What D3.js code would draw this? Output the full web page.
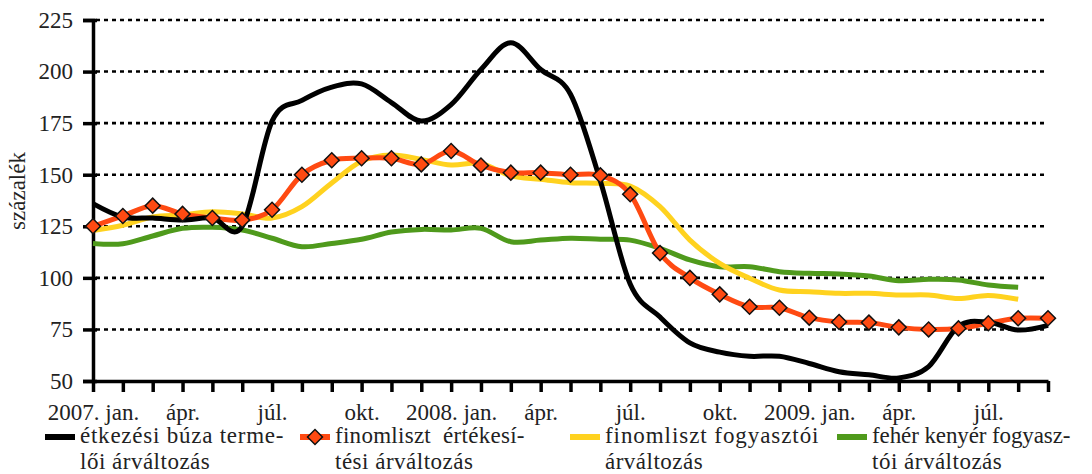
<!DOCTYPE html>
<html>
<head>
<meta charset="utf-8">
<script src="https://cdn.jsdelivr.net/npm/d3@7"></script>
<style>
  body { margin: 0; background: #fff; }
  svg text { font-family: "Liberation Serif", "Times New Roman", serif; }
</style>
</head>
<body>
<svg id="chart"></svg>
<script>
// month labels, 2007 jan .. 2009 sep
var months = ["2007. jan.", "", "", "ápr.", "", "", "júl.", "", "", "okt.", "", "",
              "2008. jan.", "", "", "ápr.", "", "", "júl.", "", "", "okt.", "", "",
              "2009. jan.", "", "", "ápr.", "", "", "júl.", "", ""];

var buza = [136, 129.5, 129, 128, 129, 125, 176, 186, 192.5, 194, 185, 176,
            184, 201, 214, 201, 189, 147, 97, 81, 68.5, 64, 62, 62,
            58.5, 54.5, 53, 51.5, 57, 76.5, 78.5, 74.7, 77];
var liszt_ert = [125, 130, 135, 131, 129, 128, 133, 150, 157, 158, 158, 155,
                 161.5, 154.5, 151, 151, 150, 149.7, 140.5, 112, 100, 92, 86, 85.5,
                 80.7, 78.6, 78.3, 76, 75, 75.5, 78, 80.4, 80.4];
var liszt_fogy = [123, 125.5, 129.5, 130.5, 132, 131, 129, 134.5, 146, 156.5, 159.5, 157.4,
                  154.7, 155.5, 149.4, 147.8, 146.1, 145.8, 144.5, 134.5, 118.3, 107, 99.8, 94.1,
                  93.3, 92.5, 92.5, 91.7, 91.7, 90, 91.5, 89.6];
var kenyer = [116.7, 116.5, 120.3, 124, 124.5, 123.2, 119.2, 115.1, 116.7, 118.7, 122.2, 123.5,
              123.2, 124, 117.5, 118.3, 119.2, 118.7, 118.3, 114.3, 108.7, 105.4, 105.4, 103,
              102.2, 101.9, 100.9, 98.6, 99.3, 99, 96.5, 95.4];
var yTicks = [50, 75, 100, 125, 150, 175, 200, 225];

var width = 1092, height = 474;
var fontFam = "'Liberation Serif', 'Times New Roman', serif";
var fs = 23;
var svg = d3.select("#chart").attr("width", width).attr("height", height)
    .attr("font-family", fontFam);

var x = d3.scaleLinear().domain([0, months.length - 1]).range([93, 1048]);
var y = d3.scaleLinear().domain([50, 225]).range([381, 20]);

// dotted gridlines
svg.append("g")
    .selectAll("line")
    .data(yTicks.filter(function (d) { return d > 50; }))
    .enter().append("line")
    .attr("x1", x(0) + 3).attr("x2", x(months.length - 1))
    .attr("y1", function (d) { return y(d); })
    .attr("y2", function (d) { return y(d); })
    .attr("stroke", "#000")
    .attr("stroke-width", 2.6)
    .attr("stroke-dasharray", "4,4");

// y axis
var yAxis = svg.append("g")
    .attr("transform", "translate(" + x(0) + ",0)")
    .call(d3.axisLeft(y).tickValues(yTicks).tickSize(10).tickPadding(10));
yAxis.attr("font-family", fontFam).attr("font-size", fs);
yAxis.select(".domain").attr("stroke", "#000").attr("stroke-width", 3.5);
yAxis.selectAll(".tick line").attr("stroke", "#000").attr("stroke-width", 3.5).attr("x2", -10).attr("x1", 4);
yAxis.selectAll(".tick text").attr("fill", "#222");

svg.append("text")
    .attr("transform", "translate(25,191) rotate(-90)")
    .attr("text-anchor", "middle")
    .attr("font-size", fs)
    .attr("fill", "#222")
    .text("százalék");

// x axis
var xAxis = svg.append("g")
    .attr("transform", "translate(0," + y(50) + ")")
    .call(d3.axisBottom(x).tickValues(d3.range(months.length)).tickSize(11).tickSizeOuter(0)
        .tickFormat(function (i) { return months[i]; }).tickPadding(12));
xAxis.attr("font-family", fontFam).attr("font-size", fs);
xAxis.select(".domain").attr("stroke", "#000").attr("stroke-width", 3.5);
xAxis.selectAll(".tick line").attr("stroke", "#000").attr("stroke-width", 3.5);
xAxis.selectAll(".tick text").attr("fill", "#222");

// series
var line = d3.line()
    .x(function (d, i) { return x(i); })
    .y(function (d) { return y(d); })
    .curve(d3.curveCardinal.tension(0));

var series = [
    { values: kenyer, color: "#4f9a1c" },
    { values: liszt_fogy, color: "#ffd21f" },
    { values: liszt_ert, color: "#ff4a12" },
    { values: buza, color: "#000000" }
];

svg.append("g").selectAll("path")
    .data(series)
    .enter().append("path")
    .attr("d", function (d) { return line(d.values); })
    .attr("fill", "none")
    .attr("stroke", function (d) { return d.color; })
    .attr("stroke-width", 5)
    .attr("stroke-linejoin", "round");

// diamond markers for finomliszt értékesítési
var diamond = d3.symbol().type(d3.symbolSquare).size(112);
svg.append("g").selectAll("path")
    .data(liszt_ert)
    .enter().append("path")
    .attr("d", diamond)
    .attr("transform", function (d, i) { return "translate(" + x(i) + "," + y(d) + ") rotate(45)"; })
    .attr("fill", "#ff4a12")
    .attr("stroke", "#111")
    .attr("stroke-width", 1.5);

// legend (first lines are justified in the original)
var legend = [
    { lines: ["étkezési búza terme-", "lői árváltozás"], color: "#000000", x: 45, marker: false, w: 204 },
    { lines: ["finomliszt  értékesí-", "tési árváltozás"], color: "#ff4a12", x: 300, marker: true, w: 190 },
    { lines: ["finomliszt fogyasztói", "árváltozás"], color: "#ffd21f", x: 570, marker: false, w: 214 },
    { lines: ["fehér kenyér fogyasz-", "tói árváltozás"], color: "#4f9a1c", x: 837, marker: false, w: 199 }
];
var lg = svg.append("g").selectAll("g")
    .data(legend)
    .enter().append("g")
    .attr("transform", function (d) { return "translate(" + d.x + ",437)"; });
lg.append("line")
    .attr("x1", 0).attr("x2", 30)
    .attr("stroke", function (d) { return d.color; })
    .attr("stroke-width", 6);
lg.filter(function (d) { return d.marker; })
    .append("path")
    .attr("d", diamond)
    .attr("transform", "translate(15,0) rotate(45)")
    .attr("fill", "#ff4a12")
    .attr("stroke", "#111")
    .attr("stroke-width", 1.5);
lg.each(function (d) {
    var g = d3.select(this);
    d.lines.forEach(function (s, k) {
        var t = g.append("text")
            .attr("x", 35).attr("y", 6 + k * 26)
            .attr("font-size", fs)
            .attr("letter-spacing", 0.5)
            .attr("fill", "#222")
            .attr("xml:space", "preserve")
            .text(s);
        if (k === 0) t.attr("textLength", d.w).attr("lengthAdjust", "spacing");
    });
});
</script>
</body>
</html>
